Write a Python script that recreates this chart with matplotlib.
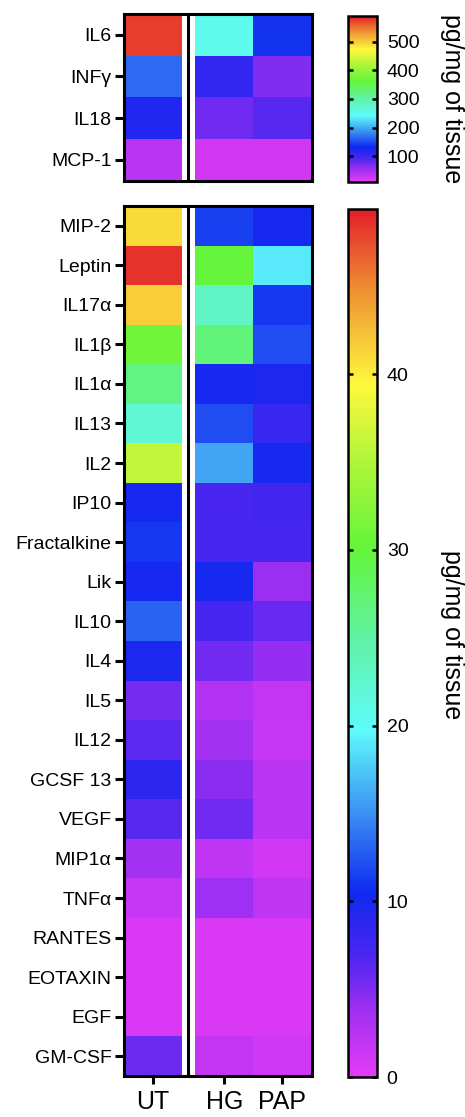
import numpy as np
import matplotlib
matplotlib.use('Agg')
import matplotlib.pyplot as plt
from matplotlib.colors import LinearSegmentedColormap

plt.rcParams['font.family'] = ['Liberation Sans', 'DejaVu Sans']

# --- Data ---
groups = ['UT', 'HG', 'PAP']

# top block, pg/mg of tissue
top_rows = ['IL6', 'INFγ', 'IL18', 'MCP-1']
top_ut = [575, 167, 120, 39]
top_hg = [254, 109, 74, 22]
top_pap = [138, 68, 85, 22]

# bottom block, pg/mg of tissue
bot_rows = ['MIP-2', 'Leptin', 'IL17α', 'IL1β', 'IL1α', 'IL13', 'IL2', 'IP10',
            'Fractalkine', 'Lik', 'IL10', 'IL4', 'IL5', 'IL12', 'GCSF 13', 'VEGF',
            'MIP1α', 'TNFα', 'RANTES', 'EOTAXIN', 'EGF', 'GM-CSF']
bot_ut = [41, 48.5, 41.5, 31, 26.5, 22, 36, 10, 11, 10, 13, 9.7, 5.3, 6.2, 8.7,
          6.5, 3.5, 1.6, 0.6, 0.6, 0.6, 5.6]
bot_hg = [11.5, 30, 23, 27, 10, 12, 16, 7, 7.3, 10, 7.3, 5.5, 2.8, 3.5, 4.6,
          5.5, 2.1, 3.8, 0.6, 0.6, 0.6, 1.8]
bot_pap = [10, 19, 11, 12, 9.5, 8, 10, 7.5, 7.3, 4, 5.8, 4.2, 1.8, 1.6, 2.5,
           2.4, 1.0, 2.0, 0.7, 0.7, 0.7, 1.2]

top_ticks = [100, 200, 300, 400, 500]
bot_ticks = [0, 10, 20, 30, 40]

# --- Colormap (Prism-like rainbow, magenta -> red) ---
stops = [(0.00, '#E33BF5'), (0.07, '#A530F2'), (0.14, '#4A26F0'), (0.21, '#0F28F0'),
         (0.30, '#3A8CF2'), (0.40, '#5EFCFC'), (0.50, '#60F2A8'), (0.61, '#64F53A'),
         (0.70, '#A8F53A'), (0.80, '#FFF83C'), (0.91, '#EE8E32'), (1.00, '#E3202A')]
cmap = LinearSegmentedColormap.from_list('prism_rainbow', stops)

GAP = 0.24
x_edges = [0, 1, 1 + GAP, 2 + GAP, 3 + GAP]
LW = 2.2


def draw_block(ax, rows, ut, hg, pap, vmin, vmax, show_x):
    n = len(rows)
    data = np.column_stack([ut, np.full(n, np.nan), hg, pap])
    data = np.ma.masked_invalid(data)
    mesh = ax.pcolormesh(x_edges, np.arange(n + 1), data, cmap=cmap,
                         vmin=vmin, vmax=vmax, shading='flat')
    ax.set_xlim(0, 3 + GAP)
    ax.set_ylim(n, 0)
    # separator line in the gap
    ax.axvline(1 + GAP / 2, color='black', lw=LW)
    ax.set_yticks(np.arange(n) + 0.5)
    ax.set_yticklabels(rows, fontsize=14)
    ax.tick_params(axis='y', length=6.5, width=LW, pad=2)
    if show_x:
        ax.set_xticks([0.5, 1.5 + GAP, 2.5 + GAP])
        ax.set_xticklabels(groups, fontsize=18)
        ax.tick_params(axis='x', length=6, width=LW, pad=4)
    else:
        ax.set_xticks([])
    for sp in ax.spines.values():
        sp.set_linewidth(LW)
    return mesh


def draw_cbar(fig, mesh, cax, ticks, label, label_y):
    cb = fig.colorbar(mesh, cax=cax)
    cb.outline.set_linewidth(1.8)
    cb.set_ticks(ticks)
    cax.tick_params(axis='y', direction='in', left=True, right=True,
                    length=3.5, width=1.8, labelsize=14, pad=7)
    fig.text(452 / 465, label_y, label, rotation=270, fontsize=18,
             ha='center', va='center')
    return cb


fig = plt.figure(figsize=(4.65, 11.17), dpi=100)

ax_top = fig.add_axes([0.2656, 0.8384, 0.4043, 0.149])
ax_bot = fig.add_axes([0.2656, 0.0367, 0.4043, 0.7789])
cax_top = fig.add_axes([0.7484, 0.8371, 0.0624, 0.1486])
cax_bot = fig.add_axes([0.7484, 0.0358, 0.0624, 0.7771])

m_top = draw_block(ax_top, top_rows, top_ut, top_hg, top_pap, 10, 590, False)
m_bot = draw_block(ax_bot, bot_rows, bot_ut, bot_hg, bot_pap, 0, 49.4, True)

draw_cbar(fig, m_top, cax_top, top_ticks, 'pg/mg of tissue', 0.912)
draw_cbar(fig, m_bot, cax_bot, bot_ticks, 'pg/mg of tissue', 0.432)

fig.savefig('out.png', dpi=100)
